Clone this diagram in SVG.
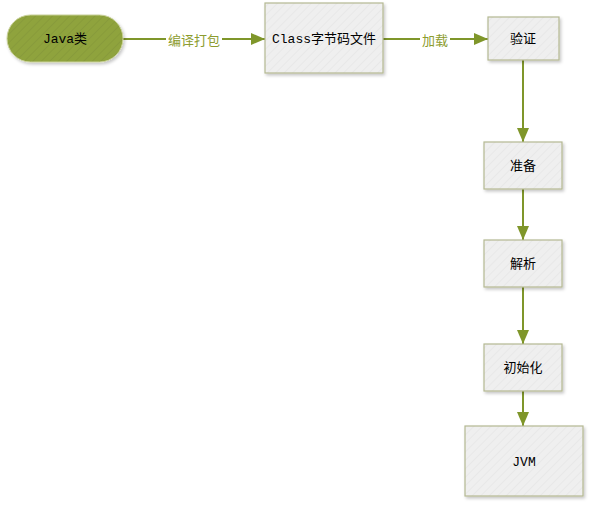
<svg xmlns="http://www.w3.org/2000/svg" width="589" height="507" viewBox="0 0 589 507">
  <style>
    .box { fill: url(#hatchGrey); stroke: #b4b892; stroke-width: 1.2; filter: url(#shadow); }
    .pill { fill: url(#hatchGreen); stroke: #c9d19a; stroke-width: 1; filter: url(#shadow); }
    .t { font-family: "Liberation Mono", "Noto Sans CJK SC", monospace; font-size: 13px; fill: #000; text-anchor: middle; dominant-baseline: central; }
    .lbl { font-family: "Noto Sans CJK SC", sans-serif; font-size: 13px; fill: #8c9c2e; text-anchor: middle; dominant-baseline: central; }
    .edge { stroke: #7f962a; stroke-width: 2; fill: none; marker-end: url(#arrow); }
  </style>
  <defs>
    <pattern id="hatchGrey" width="6" height="6" patternUnits="userSpaceOnUse" patternTransform="rotate(45)">
      <rect width="6" height="6" fill="#efefef"/>
      <line x1="0" y1="0" x2="0" y2="6" stroke="#e6e6e6" stroke-width="1.5"/>
    </pattern>
    <pattern id="hatchGreen" width="6" height="6" patternUnits="userSpaceOnUse" patternTransform="rotate(45)">
      <rect width="6" height="6" fill="#8fa33c"/>
      <line x1="0" y1="0" x2="0" y2="6" stroke="#86993a" stroke-width="1.5"/>
    </pattern>
    <filter id="shadow" x="-10%" y="-10%" width="130%" height="130%">
      <feDropShadow dx="1.5" dy="2" stdDeviation="1.5" flood-color="#000" flood-opacity="0.22"/>
    </filter>
    <marker id="arrow" viewBox="0 0 14 12" refX="14" refY="6" markerWidth="14" markerHeight="12" markerUnits="userSpaceOnUse" orient="auto">
      <path d="M0,0 L14,6 L0,12 Z" fill="#7f962a"/>
    </marker>
  </defs>

  <!-- connectors -->
  <g id="edges">
    <line class="edge" x1="123" y1="39" x2="265" y2="39"/>
    <rect x="166" y="30" width="56" height="18" fill="#fff"/>
    <text class="lbl" x="194" y="39">编译打包</text>
    <line class="edge" x1="383" y1="39" x2="488" y2="39"/>
    <rect x="420" y="30" width="30" height="18" fill="#fff"/>
    <text class="lbl" x="435" y="39">加载</text>
    <line class="edge" x1="523" y1="60" x2="523" y2="142"/>
    <line class="edge" x1="523" y1="189" x2="523" y2="240"/>
    <line class="edge" x1="523" y1="287" x2="523" y2="344"/>
    <line class="edge" x1="523" y1="391" x2="523" y2="426"/>
  </g>

  <g id="java">
    <rect class="pill" x="7" y="15" width="116" height="47" rx="23.5"/>
    <text class="t" x="65" y="39">Java类</text>
  </g>
  <g id="classfile">
    <rect class="box" x="265" y="3" width="118" height="70"/>
    <text class="t" x="324" y="39">Class字节码文件</text>
  </g>
  <g id="verify">
    <rect class="box" x="488" y="17" width="71" height="43"/>
    <text class="t" x="523" y="39">验证</text>
  </g>
  <g id="prepare">
    <rect class="box" x="484" y="142" width="78" height="47"/>
    <text class="t" x="523" y="166">准备</text>
  </g>
  <g id="resolve">
    <rect class="box" x="484" y="240" width="78" height="47"/>
    <text class="t" x="523" y="264">解析</text>
  </g>
  <g id="init">
    <rect class="box" x="484" y="344" width="78" height="47"/>
    <text class="t" x="523" y="368">初始化</text>
  </g>
  <g id="jvm">
    <rect class="box" x="465" y="426" width="118" height="70"/>
    <text class="t" x="524" y="462">JVM</text>
  </g>
</svg>
